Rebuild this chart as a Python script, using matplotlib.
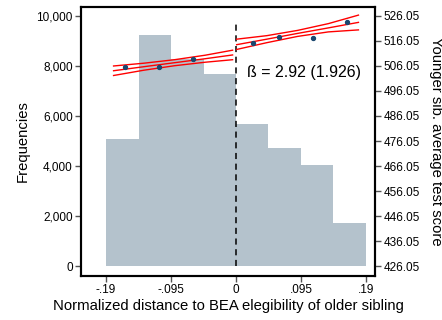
import matplotlib.pyplot as plt
import numpy as np

plt.rcParams['font.family'] = ['Liberation Sans', 'DejaVu Sans']

# histogram of older sibling distance
bin_edges = [-0.19, -0.1425, -0.095, -0.0475, 0.0, 0.0475, 0.095, 0.1425, 0.19]
freq = [5070, 9230, 8260, 7670, 5680, 4730, 4040, 1730]

# binned means of younger sibling score
dot_x = [-0.162, -0.1126, -0.0629, 0.0244, 0.0624, 0.112, 0.162]
dot_y = [505.6, 505.7, 508.9, 515.0, 517.7, 517.0, 523.4]

# fitted lines with confidence bands
left_x = [-0.179, -0.135, -0.09, -0.045, -0.005]
left_fit = [504.1, 505.7, 507.3, 508.9, 510.4]
left_hi = [506.0, 507.1, 508.5, 510.3, 512.3]
left_lo = [502.2, 504.3, 506.1, 507.5, 508.5]

right_x = [0.001, 0.045, 0.09, 0.135, 0.179]
right_fit = [514.5, 516.7, 519.0, 521.2, 523.4]
right_hi = [516.7, 518.1, 520.2, 522.9, 526.3]
right_lo = [512.6, 515.3, 517.8, 519.6, 520.4]

freq_ticks = [0, 2000, 4000, 6000, 8000, 10000]
score_ticks = [426.05, 436.05, 446.05, 456.05, 466.05, 476.05, 486.05, 496.05, 506.05, 516.05, 526.05]
x_ticks = [-0.19, -0.095, 0, 0.095, 0.19]
x_labels = ['-.19', '-.095', '0', '.095', '.19']

fig = plt.figure(figsize=(4.42, 3.2), dpi=100)
ax = fig.add_axes([0.1833, 0.1384, 0.6651, 0.8406])

edges = np.array(bin_edges)
ax.bar(edges[:-1], freq, width=np.diff(edges), align='edge', color='#b4c2cc', linewidth=0)
ax.plot([0, 0], [0, 9750], color='black', ls=(0, (4, 3)), lw=1.1)

ylo, yhi = -375, 10360
ax.set_ylim(ylo, yhi)
ax.set_xlim(-0.2266, 0.2032)
ax.set_yticks(freq_ticks)
ax.set_yticklabels([f'{v:,}' for v in freq_ticks])
ax.set_xticks(x_ticks)
ax.set_xticklabels(x_labels)
ax.set_ylabel('Frequencies', fontsize=10.7, labelpad=5)
ax.set_xlabel('Normalized distance to BEA elegibility of older sibling', fontsize=10.7, labelpad=2)

ax2 = ax.twinx()
ax2.set_ylim(426.05 + ylo / 100, 426.05 + yhi / 100)
ax2.set_yticks(score_ticks)
ax2.set_yticklabels([f'{v:.2f}' for v in score_ticks])
ax2.set_ylabel('Younger sib. average test score', fontsize=10.7, rotation=270, labelpad=17)

for xs, fit, hi, lo in [(left_x, left_fit, left_hi, left_lo), (right_x, right_fit, right_hi, right_lo)]:
    ax2.plot(xs, fit, color='red', lw=1)
    ax2.plot(xs, hi, color='red', lw=1)
    ax2.plot(xs, lo, color='red', lw=1)
ax2.scatter(dot_x, dot_y, s=8, color='#1a476f', zorder=5)

ax2.text(0.0156, 503.3, 'ß = 2.92 (1.926)', fontsize=11.5, va='center', ha='left')

for a in (ax, ax2):
    for s in a.spines.values():
        s.set_linewidth(1.5)
        s.set_color('black')
    a.tick_params(labelsize=8.5, length=4, width=1, color='#555555', pad=2)

fig.savefig('out.png', dpi=100)
